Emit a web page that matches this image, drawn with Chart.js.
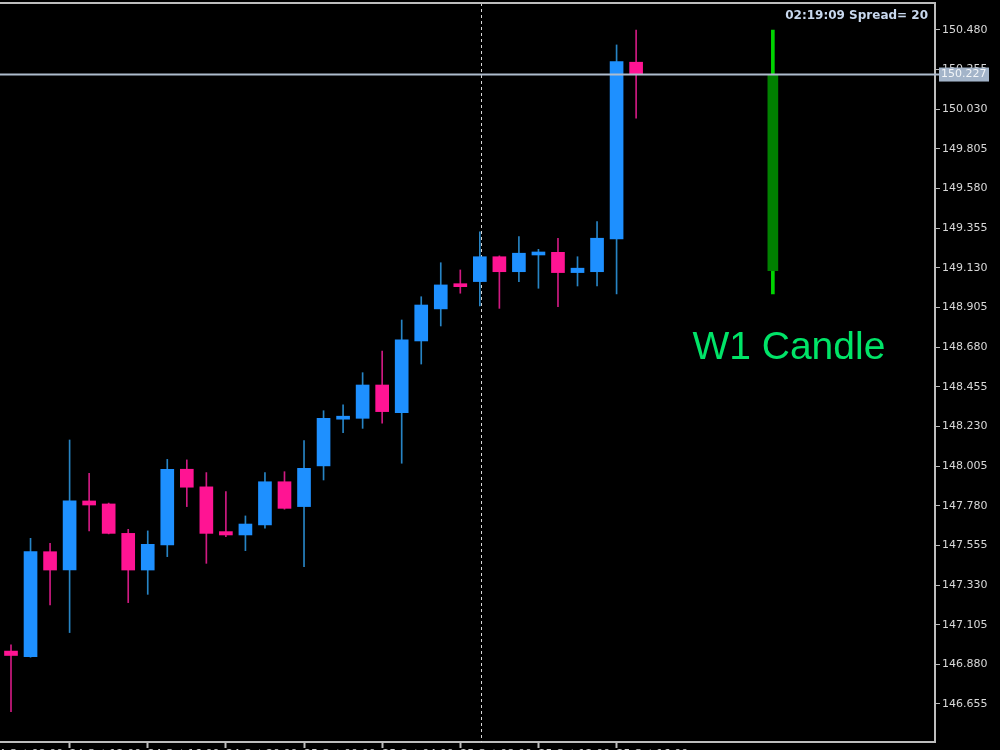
<!DOCTYPE html>
<html>
<head>
<meta charset="utf-8">
<script src="https://cdn.jsdelivr.net/npm/chart.js@4.4.0/dist/chart.umd.min.js"></script>
<style>
  html, body { margin: 0; padding: 0; background: #000; }
  canvas { display: block; }
</style>
</head>
<body>
<canvas id="chart" width="1000" height="750"></canvas>
<script>
// Бары (свечи) по порядку, индекс = позиция на оси X
const opens  = [146.955, 146.923, 147.519, 147.415, 147.807, 147.790, 147.623, 147.415, 147.557, 147.987, 147.887,
                147.633, 147.614, 147.671, 147.916, 147.775, 148.006, 148.271, 148.276, 148.465, 148.308, 148.715,
                148.897, 149.033, 149.052, 149.193, 149.108, 149.203, 149.218, 149.103, 149.108, 149.294, 150.297];
const highs  = [146.990, 147.595, 147.567, 148.153, 147.964, 147.795, 147.646, 147.637, 148.043, 148.040, 147.968,
                147.860, 147.722, 147.968, 147.973, 148.149, 148.319, 148.352, 148.535, 148.658, 148.834, 148.966,
                149.159, 149.118, 149.335, 149.198, 149.307, 149.235, 149.298, 149.193, 149.392, 150.395, 150.480];
const lows   = [146.611, 146.920, 147.217, 147.060, 147.637, 147.620, 147.230, 147.277, 147.491, 147.775, 147.453,
                147.604, 147.525, 147.652, 147.760, 147.434, 147.926, 148.195, 148.219, 148.248, 148.021, 148.584,
                148.800, 148.986, 148.914, 148.900, 149.052, 149.014, 148.910, 149.027, 149.027, 148.982, 149.979];
const closes = [146.930, 147.519, 147.415, 147.807, 147.784, 147.623, 147.415, 147.561, 147.987, 147.885, 147.623,
                147.614, 147.676, 147.916, 147.765, 147.992, 148.276, 148.282, 148.465, 148.314, 148.721, 148.919,
                149.033, 149.023, 149.193, 149.108, 149.213, 149.218, 149.103, 149.128, 149.298, 150.300, 150.227];

// Недельная свеча справа
const w1Index = 39;
const w1Open = 149.114, w1High = 150.480, w1Low = 148.982, w1Close = 150.227;

// Шкала цен и подписи времени
const priceTicks = [150.480, 150.255, 150.030, 149.805, 149.580, 149.355, 149.130, 148.905, 148.680,
                    148.455, 148.230, 148.005, 147.780, 147.555, 147.330, 147.105, 146.880, 146.655];
const timeTickIndex = [-1, 3, 7, 11, 15, 19, 23, 27, 31];
const timeTickLabels = ['24 Oct 08:00', '24 Oct 12:00', '24 Oct 16:00', '24 Oct 20:00', '25 Oct 00:00',
                        '25 Oct 04:00', '25 Oct 08:00', '25 Oct 12:00', '25 Oct 16:00'];

const currentPrice = 150.227;
const separatorIndex = 24.05;
const infoText = '02:19:09 Spread= 20';
const labelText = 'W1 Candle';

const BULL = '#1e90ff', BEAR = '#ff1493';
const BULL_WICK = '#2784c4', BEAR_WICK = '#d01a82';
const FRAME = '#bdbdbd';

const isBull = i => closes[i] >= opens[i];

// убираем авто-отступы шкал, чтобы область графика была как в терминале
const noPadding = s => {
  s.paddingTop = 0; s.paddingBottom = 0; s.paddingLeft = 0; s.paddingRight = 0;
};

// Доп. элементы: разделитель, линия цены, тексты
const overlay = {
  id: 'overlay',
  beforeDatasetsDraw(chart) {
    const { ctx, chartArea, scales } = chart;
    const x = Math.round(scales.x.getPixelForValue(separatorIndex)) + 0.5;
    ctx.save();
    ctx.strokeStyle = '#d8d8d8';
    ctx.lineWidth = 1;
    ctx.setLineDash([3, 3]);
    ctx.beginPath();
    ctx.moveTo(x, chartArea.top);
    ctx.lineTo(x, chartArea.bottom);
    ctx.stroke();
    ctx.restore();
  },
  afterDatasetsDraw(chart) {
    const { ctx, chartArea, scales } = chart;
    const y = scales.y.getPixelForValue(currentPrice);
    ctx.save();
    ctx.strokeStyle = '#aebccd';
    ctx.lineWidth = 2;
    ctx.beginPath();
    ctx.moveTo(chartArea.left, y);
    ctx.lineTo(chartArea.right + 5, y);
    ctx.stroke();

    ctx.fillStyle = '#00e468';
    ctx.font = '39px "Liberation Sans", Arial, sans-serif';
    ctx.textAlign = 'center';
    ctx.textBaseline = 'alphabetic';
    ctx.fillText(labelText, scales.x.getPixelForValue(w1Index) + 16, 359);
    ctx.restore();
  },
  afterDraw(chart) {
    const { ctx, chartArea, scales } = chart;
    const y = scales.y.getPixelForValue(currentPrice);
    ctx.save();
    // рамка сверху
    ctx.strokeStyle = FRAME;
    ctx.lineWidth = 2;
    ctx.beginPath();
    ctx.moveTo(0, chartArea.top);
    ctx.lineTo(chartArea.right, chartArea.top);
    ctx.stroke();

    // метка текущей цены
    ctx.fillStyle = '#a3b4c9';
    ctx.fillRect(chartArea.right + 4, y - 7, 50, 14);
    ctx.fillStyle = '#f2f5f8';
    ctx.font = '11px "DejaVu Sans", sans-serif';
    ctx.textAlign = 'left';
    ctx.textBaseline = 'middle';
    ctx.fillText(currentPrice.toFixed(3), chartArea.right + 6, y);

    // время и спред
    ctx.fillStyle = '#c8d8ee';
    ctx.font = 'bold 12px "DejaVu Sans", sans-serif';
    ctx.textAlign = 'right';
    ctx.fillText(infoText, chartArea.right - 7, 16);
    ctx.restore();
  }
};

const idx = opens.map((_, i) => i);

new Chart(document.getElementById('chart'), {
  type: 'bar',
  data: {
    datasets: [
      {
        label: 'wicks',
        data: idx.map(i => ({ x: i, y: [lows[i], highs[i]] })),
        backgroundColor: idx.map(i => isBull(i) ? BULL_WICK : BEAR_WICK),
        barThickness: 1,
        grouped: false,
        order: 3
      },
      {
        label: 'bodies',
        data: idx.map(i => ({ x: i, y: [opens[i], closes[i]] })),
        backgroundColor: idx.map(i => isBull(i) ? BULL : BEAR),
        barThickness: 13,
        minBarLength: 3,
        grouped: false,
        order: 2
      },
      {
        label: 'w1 wick',
        data: [{ x: w1Index, y: [w1Low, w1High] }],
        backgroundColor: '#00d400',
        barThickness: 3,
        grouped: false,
        order: 3
      },
      {
        label: 'w1 body',
        data: [{ x: w1Index, y: [w1Open, w1Close] }],
        backgroundColor: '#008000',
        barThickness: 10,
        grouped: false,
        order: 2
      }
    ]
  },
  options: {
    responsive: false,
    animation: false,
    layout: { padding: { top: 3, left: 0, right: 0, bottom: 0 } },
    plugins: {
      legend: { display: false },
      tooltip: { enabled: false }
    },
    scales: {
      x: {
        type: 'linear',
        min: -0.563,
        max: 47.3,
        offset: false,
        grid: { display: true, offset: false, drawOnChartArea: false, drawTicks: true, tickLength: 6, tickColor: FRAME, tickWidth: 2 },
        border: { display: true, color: FRAME, width: 2 },
        afterBuildTicks: s => { s.ticks = timeTickIndex.map(v => ({ value: v })); },
        afterFit: s => { s.height = 8; noPadding(s); },
        ticks: {
          autoSkip: false,
          maxRotation: 0,
          align: 'start',
          padding: 0,
          color: '#d0d0d0',
          font: { family: '"DejaVu Sans", sans-serif', size: 11 },
          callback: (v, i) => timeTickLabels[i]
        }
      },
      y: {
        position: 'right',
        min: 146.439,
        max: 150.633,
        grid: { display: true, drawOnChartArea: false, drawTicks: true, tickLength: 5, tickColor: FRAME, tickWidth: 1 },
        border: { display: true, color: FRAME, width: 2 },
        afterBuildTicks: s => { s.ticks = priceTicks.map(v => ({ value: v })); },
        afterFit: s => { s.width = 65; noPadding(s); },
        ticks: {
          padding: 2,
          color: '#d8d8d8',
          font: { family: '"DejaVu Sans", sans-serif', size: 11 },
          callback: v => v.toFixed(3)
        }
      }
    }
  },
  plugins: [overlay]
});
</script>
</body>
</html>
